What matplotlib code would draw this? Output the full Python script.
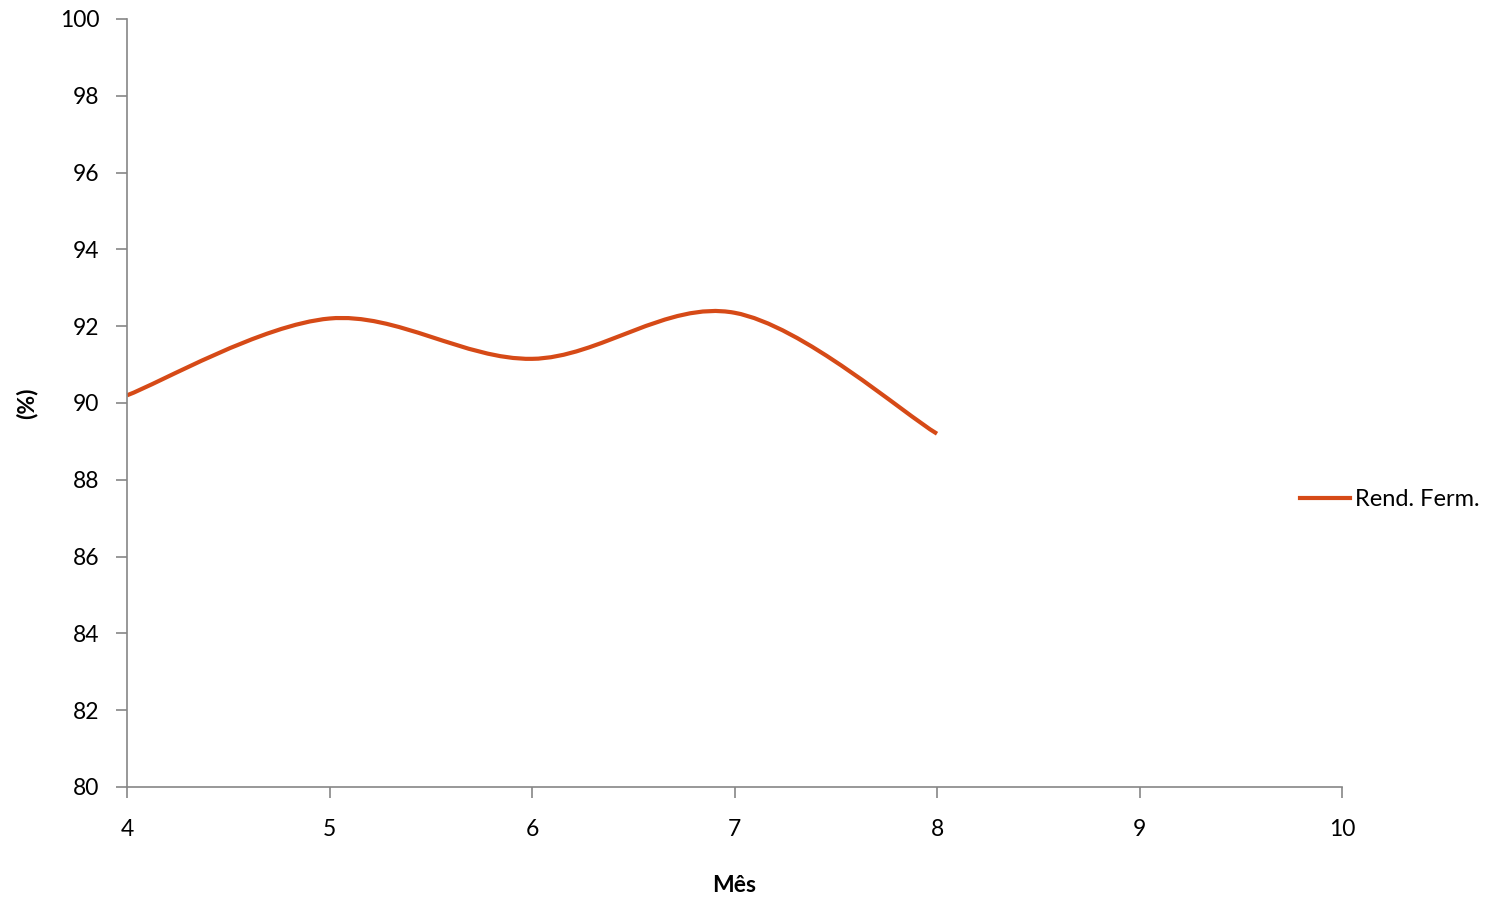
import numpy as np
import matplotlib
matplotlib.use("Agg")
import matplotlib.pyplot as plt
from matplotlib.path import Path
from matplotlib.patches import PathPatch
from matplotlib.lines import Line2D

# Monthly fermentation yield (%)
months = [4, 5, 6, 7, 8]
rend_ferm = [90.2, 92.2, 91.15, 92.35, 89.2]

x_ticks = [4, 5, 6, 7, 8, 9, 10]
y_ticks = [80, 82, 84, 86, 88, 90, 92, 94, 96, 98, 100]

line_color = "#D64A17"
axis_color = "#868686"
fs = 16.5

plt.rcParams["font.family"] = ["Lato", "DejaVu Sans"]


def smooth_path(xs, ys):
    """Cubic Bezier through the points, spreadsheet-style smoothing."""
    pts = np.column_stack([xs, ys]).astype(float)
    n = len(pts)
    verts = [pts[0]]
    codes = [Path.MOVETO]
    for i in range(n - 1):
        p0 = pts[i - 1] if i > 0 else pts[i]
        p1, p2 = pts[i], pts[i + 1]
        p3 = pts[i + 2] if i + 2 < n else pts[i + 1]
        c1 = p1 + (p2 - p0) / 6.0
        c2 = p2 - (p3 - p1) / 6.0
        verts += [c1, c2, p2]
        codes += [Path.CURVE4] * 3
    return Path(verts, codes)


fig = plt.figure(figsize=(15.03, 8.98), dpi=100)
ax = fig.add_axes([127 / 1503, 1 - 787 / 898, (1342 - 127) / 1503, (787 - 19) / 898])

ax.add_patch(PathPatch(smooth_path(months, rend_ferm), facecolor="none",
                       edgecolor=line_color, linewidth=3, capstyle="butt"))

ax.set_xlim(4, 10)
ax.set_ylim(80, 100)
ax.set_xticks(x_ticks)
ax.set_yticks(y_ticks)
ax.tick_params(axis="both", direction="out", length=8, width=1.2,
               color=axis_color, labelsize=fs)
ax.tick_params(axis="x", pad=15)
ax.tick_params(axis="y", pad=12)
for side in ("top", "right"):
    ax.spines[side].set_visible(False)
for side in ("left", "bottom"):
    ax.spines[side].set_color(axis_color)
    ax.spines[side].set_linewidth(1.2)

ax.set_xlabel("Mês", fontsize=fs, fontweight="bold", labelpad=25)
ax.set_ylabel("(%)", fontsize=fs, fontweight="bold", labelpad=16)

handle = Line2D([], [], color=line_color, linewidth=3)
fig.legend([handle], ["Rend. Ferm."], loc="center left",
           bbox_to_anchor=(1279 / 1503, 1 - 500 / 898), frameon=False,
           fontsize=17, handlelength=2.1, handletextpad=0.2)

fig.savefig("out.png", dpi=100)
